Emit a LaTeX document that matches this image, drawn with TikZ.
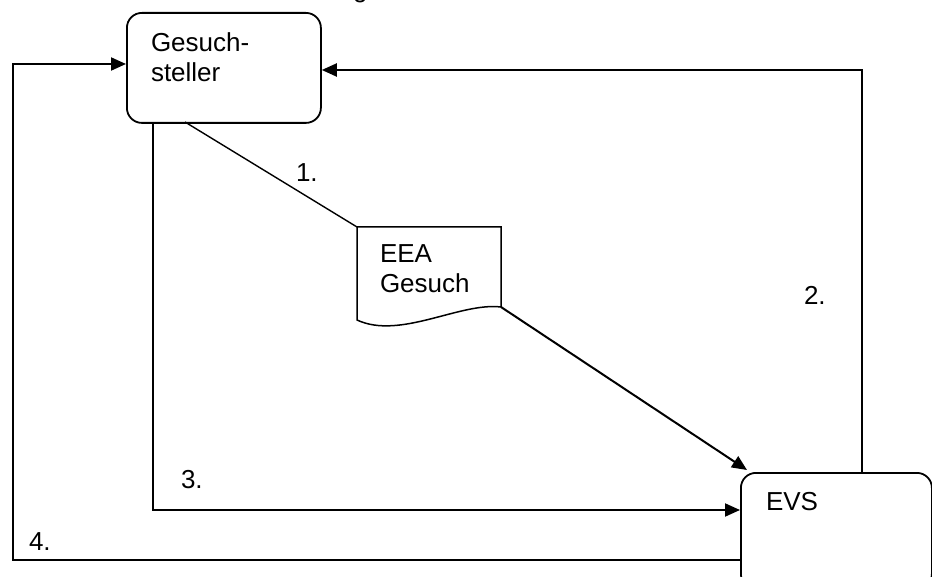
\documentclass[tikz,border=0pt]{standalone}
\usepackage{fontspec}
\setmainfont{Liberation Sans}
\usetikzlibrary{arrows.meta}
\begin{document}
\begin{tikzpicture}[x=1pt,y=-1pt, line width=2pt,
  box/.style={draw, rounded corners=15pt, line width=1.8pt, inner sep=0pt},
  lbl/.style={font=\fontsize{26}{30}\selectfont, inner sep=0pt, anchor=base west},
  arr/.style={-{Triangle[length=15pt,width=13pt]}},
  thinline/.style={line width=1.4pt}]
\useasboundingbox (0,0) rectangle (932,577);
\begin{scope}
\clip (0,0) rectangle (932,577);
\node[lbl] (g) at (352,-2.5) {g};
\node[box, minimum width=194pt, minimum height=110pt, anchor=north west] (gs) at (126,12) {};
\node[box, minimum width=191pt, minimum height=116pt, anchor=north west] (evs) at (740,472) {};
\end{scope}
\node[lbl] (gs1) at (150,52) {Gesuch-};
\node[lbl] (gs2) at (150,82) {steller};
\node[lbl] (evst) at (765,510) {EVS};
% document shape
\coordinate (dnw) at (357,227);
\coordinate (dne) at (501,227);
\coordinate (dse) at (501,307);
\coordinate (dsw) at (357,320);
\draw[line width=1.5pt, line join=miter] (dnw) -- (dne) -- (dse) .. controls (460,302) and (400,340) .. (dsw) -- cycle;
\node[lbl] (d1) at (379,263) {EEA};
\node[lbl] (d2) at (379,293) {Gesuch};
% connectors
\coordinate (c1) at (185,122);
\draw[thinline] (c1) -- (dnw);
\coordinate (tipe) at (747,470);
\draw[arr] (dse) -- (tipe);
\coordinate (r2) at (862,70);
\draw[arr] (evs.north -| r2) -- (r2) -- (gs.east |- r2);
\coordinate (l3) at (153,510);
\draw[arr] (gs.south -| l3) -- (l3) -- (evs.west |- l3);
\coordinate (l4a) at (13,560);
\coordinate (l4b) at (13,64);
\draw[arr] (evs.west |- l4a) -- (l4a) -- (l4b) -- (gs.west |- l4b);
% labels
\node[lbl] (n1) at (295,182) {1.};
\node[lbl] (n2) at (803,305) {2.};
\node[lbl] (n3) at (180,488) {3.};
\node[lbl] (n4) at (28,550) {4.};
\end{tikzpicture}
\end{document}
